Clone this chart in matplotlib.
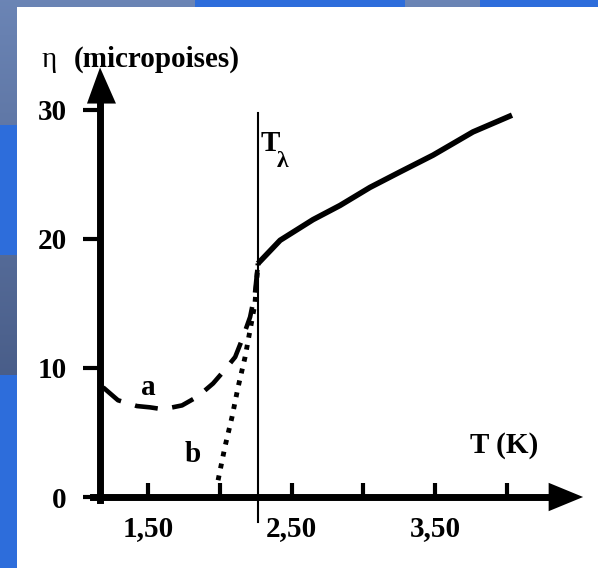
import numpy as np
import matplotlib.pyplot as plt

# viscosidad del helio liquido frente a la temperatura
t_solid = [2.266, 2.42, 2.649, 2.837, 3.046, 3.255, 3.485, 3.763, 4.035]
eta_solid = [18.1, 19.9, 21.5, 22.6, 24.0, 25.2, 26.5, 28.3, 29.6]

# curva a (discontinua)
t_a = [1.187, 1.291, 1.423, 1.514, 1.604, 1.737, 1.848, 1.953, 2.023,
       2.107, 2.155, 2.211, 2.245, 2.266]
eta_a = [8.5, 7.5, 7.05, 6.95, 6.8, 7.1, 7.8, 8.8, 9.7,
         10.85, 12.2, 13.95, 15.8, 18.1]

# curva b (punteada)
t_b = [1.988, 2.036, 2.085, 2.127, 2.176, 2.211, 2.245, 2.266]
eta_b = [1.3, 3.9, 6.2, 8.5, 10.85, 12.95, 15.0, 18.1]

t_lambda = 2.266
x_ticks = [1.5, 2.0, 2.5, 3.0, 3.5, 4.0]
x_tick_labels = ['1,50', '', '2,50', '', '3,50', '']
y_ticks = [0, 10, 20, 30]
y_tick_labels = ['0', '10', '20', '30']

W, H = 598, 568
serif = 'Liberation Serif'

# fondo azul de la diapositiva
img = np.zeros((H, W, 3))
grad = np.linspace(0, 1, H)[:, None]
top = np.array([0.42, 0.52, 0.71])
bottom = np.array([0.22, 0.29, 0.45])
img[:] = (top * (1 - grad) + bottom * grad)[:, None, :]
bright = np.array([0.18, 0.43, 0.86])
img[125:255, :17] = bright
img[375:, :17] = bright
img[:7, 195:405] = bright
img[:7, 480:] = bright

fig = plt.figure(figsize=(W / 100, H / 100), dpi=100)
bg = fig.add_axes([0, 0, 1, 1])
bg.imshow(img, aspect='auto', interpolation='nearest')
bg.axis('off')

ax = fig.add_axes([17 / W, 0, (W - 17) / W, (H - 7) / H])
ax.set_facecolor('white')
ax.set_xlim((17 + 67.4) / 143.6, (W + 67.4) / 143.6)
ax.set_ylim((497 - H) / 12.9, (497 - 7) / 12.9)

# ejes con flechas
x0 = 1.166
for s in ['top', 'right']:
    ax.spines[s].set_visible(False)
ax.spines['left'].set_position(('data', x0))
ax.spines['bottom'].set_position(('data', 0))
ax.spines['left'].set_linewidth(5)
ax.spines['bottom'].set_linewidth(5)
ax.spines['left'].set_bounds(-0.25, 31)
ax.spines['bottom'].set_bounds(1.117, 4.35)
ax.fill([1.075, 1.277, x0], [30.5, 30.5, 33.3], color='black', lw=0)
ax.fill([4.29, 4.29, 4.53], [-1.1, 1.1, 0], color='black', lw=0)

ax.set_xticks(x_ticks)
ax.set_xticklabels(x_tick_labels)
ax.set_yticks(y_ticks)
ax.set_yticklabels(y_tick_labels)
ax.tick_params(axis='x', direction='in', length=10, width=3, pad=13)
ax.tick_params(axis='y', direction='out', length=12, width=3, pad=12)
for lab in ax.get_xticklabels() + ax.get_yticklabels():
    lab.set_fontfamily(serif)
    lab.set_fontweight('bold')
    lab.set_fontsize(21)

# linea T lambda
ax.plot([t_lambda, t_lambda], [-1.94, 29.8], color='black', lw=1.5)

ax.plot(t_solid, eta_solid, color='black', lw=4, solid_capstyle='butt')
ax.plot(t_a, eta_a, color='black', lw=3.3, linestyle=(0, (5, 3.2)))
ax.plot(t_b, eta_b, color='black', lw=3.5, linestyle=(0, (1, 1.5)))

font = dict(family=serif, fontweight='bold', fontsize=21, color='black')
ax.text(1.5, 8.45, 'a', ha='center', va='center', **font)
ax.text(1.814, 3.26, 'b', ha='center', va='center', **font)
ax.text(3.98, 4.03, 'T (K)', ha='center', va='center', **font)
ax.text(2.285, 27.4, 'T', ha='left', va='center', **font)
ax.text(2.4, 26.0, 'λ', ha='left', va='center', family=serif,
        fontweight='bold', fontsize=17)
ax.text(0.76, 33.9, 'η', ha='left', va='center', family=serif, fontsize=21)
ax.text(0.98, 33.9, '(micropoises)', ha='left', va='center', **font)

fig.savefig('out.png', dpi=100)
